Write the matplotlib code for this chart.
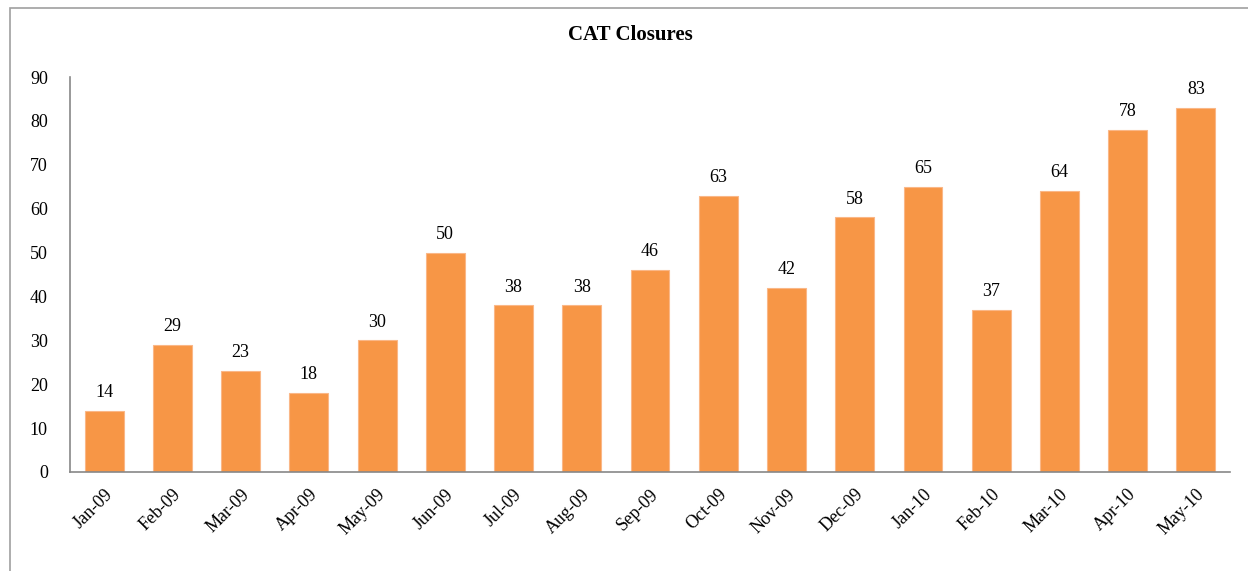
import matplotlib.pyplot as plt
from matplotlib.patches import Rectangle

months = ['Jan-09', 'Feb-09', 'Mar-09', 'Apr-09', 'May-09', 'Jun-09', 'Jul-09',
          'Aug-09', 'Sep-09', 'Oct-09', 'Nov-09', 'Dec-09', 'Jan-10', 'Feb-10',
          'Mar-10', 'Apr-10', 'May-10']
closures = [14, 29, 23, 18, 30, 50, 38, 38, 46, 63, 42, 58, 65, 37, 64, 78, 83]

plt.rcParams['font.family'] = 'Liberation Serif'

fig = plt.figure(figsize=(12.48, 5.71), dpi=100)
ax = fig.add_axes([0.0561, 0.1734, 0.9295, 0.6917])

x = range(len(months))
bars = ax.bar(x, closures, width=0.57, color='#F79646', edgecolor='#FAB787', linewidth=0.8)
for xi, v in zip(x, closures):
    ax.text(xi, v + 2.2, str(v), ha='center', va='bottom', fontsize=13)

ax.set_xlim(-0.5, len(months) - 0.5)
ax.set_ylim(0, 90)
ax.set_yticks(range(0, 91, 10))
ax.set_xticks(list(x))
ax.set_xticklabels(months, rotation=45, ha='right', rotation_mode='anchor', fontsize=13)
ax.tick_params(axis='y', length=0, labelsize=13, pad=16)
ax.tick_params(axis='x', length=0, pad=10)
for s in ['top', 'right']:
    ax.spines[s].set_visible(False)
for s in ['left', 'bottom']:
    ax.spines[s].set_color('#888888')
    ax.spines[s].set_linewidth(1.2)

fig.text(0.5055, 0.938, 'CAT Closures', ha='center', va='center', fontsize=15, fontweight='bold')

# outer frame of the chart area (cropped on right and bottom)
fig.patches.append(Rectangle((10 / 1248, -0.1), 1.2, 1 - 8 / 571 + 0.1,
                             transform=fig.transFigure, fill=False,
                             edgecolor='#A0A0A0', linewidth=1.2))

fig.savefig('out.png', dpi=100)
